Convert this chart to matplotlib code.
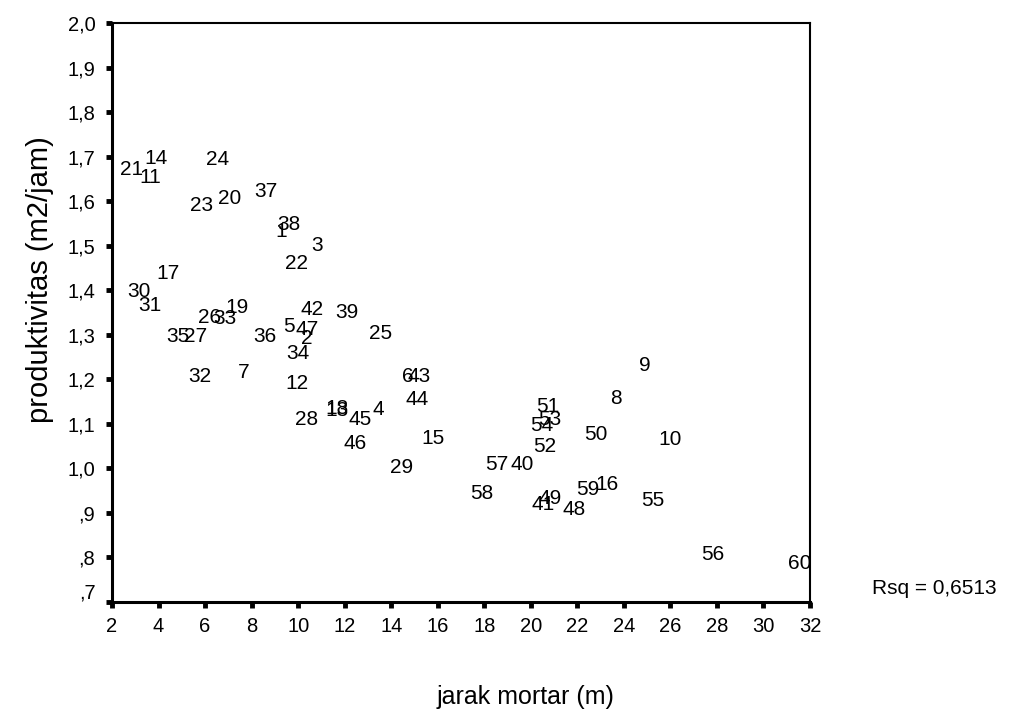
import matplotlib
matplotlib.use("Agg")
import matplotlib.pyplot as plt
import matplotlib.transforms as mtransforms

plt.rcParams['font.family'] = ['Liberation Sans', 'DejaVu Sans']

# case numbers and their position (jarak mortar, produktivitas)
case_ids = list(range(1, 61))
jarak = [9.26, 10.37, 10.82, 13.45, 9.62, 14.73, 7.67, 23.66, 24.91, 25.98,
         3.66, 9.96, 11.68, 3.89, 15.78, 23.26, 4.42, 11.66, 7.36, 7.04,
         2.85, 9.94, 5.86, 6.53, 13.55, 6.21, 5.57, 10.37, 14.45, 3.17,
         3.63, 5.78, 6.86, 9.99, 4.85, 8.58, 8.61, 9.58, 12.09, 19.61,
         20.51, 10.58, 15.21, 15.12, 12.66, 12.47, 10.37, 21.86, 20.82, 22.80,
         20.71, 20.61, 20.82, 20.47, 25.26, 27.82, 18.53, 17.89, 22.43, 31.57]
produktivitas = [1.531, 1.292, 1.500, 1.133, 1.318, 1.207, 1.215, 1.157, 1.232, 1.064,
                 1.653, 1.191, 1.131, 1.696, 1.068, 0.963, 1.438, 1.134, 1.361, 1.606,
                 1.671, 1.459, 1.591, 1.694, 1.302, 1.339, 1.297, 1.109, 1.002, 1.397,
                 1.365, 1.207, 1.337, 1.259, 1.296, 1.296, 1.621, 1.548, 1.350, 1.008,
                 0.918, 1.357, 1.207, 1.155, 1.110, 1.055, 1.312, 0.907, 0.933, 1.075,
                 1.139, 1.049, 1.110, 1.097, 0.928, 0.806, 1.008, 0.944, 0.953, 0.787]

x_ticks = list(range(2, 33, 2))
y_ticks = [0.7, 0.8, 0.9, 1.0, 1.1, 1.2, 1.3, 1.4, 1.5, 1.6, 1.7, 1.8, 1.9, 2.0]
y_tick_labels = [',7', ',8', ',9', '1,0', '1,1', '1,2', '1,3', '1,4', '1,5',
                 '1,6', '1,7', '1,8', '1,9', '2,0']
rsq_text = 'Rsq = 0,6513'

fig = plt.figure(figsize=(10.23, 7.16), dpi=100)
ax = fig.add_axes((0.1095, 0.1592, 0.6823, 0.8087))

# labels drawn as the markers, SPSS style
for cid, xv, yv in zip(case_ids, jarak, produktivitas):
    ax.text(xv, yv, str(cid), ha='center', va='center', fontsize=15, color='black')

ax.set_xlim(2, 32)
ax.set_ylim(0.7, 2.0)
ax.set_xticks(x_ticks)
ax.set_xticklabels([str(v) for v in x_ticks])
ax.set_yticks(y_ticks)
ax.set_yticklabels(y_tick_labels)
ax.tick_params(direction='out', length=4, width=3.5, labelsize=14.5)
ax.tick_params(axis='x', pad=7)
ax.tick_params(axis='y', pad=8)

for sp in ax.spines.values():
    sp.set_linewidth(1.5)
ax.spines['left'].set_linewidth(2.2)
ax.spines['bottom'].set_linewidth(2.2)

# the ,7 label sits a bit above its tick in the original
lab = ax.yaxis.get_major_ticks()[0].label1
lab.set_transform(lab.get_transform() + mtransforms.ScaledTranslation(0, 0.11, fig.dpi_scale_trans))

fig.text(526 / 1023, 1 - 697 / 716, 'jarak mortar (m)', fontsize=18, ha='center', va='center')
fig.text(40 / 1023, 1 - 280 / 716, 'produktivitas (m2/jam)', fontsize=21,
         ha='center', va='center', rotation=90)

fig.text(0.8525, 0.178, rsq_text, fontsize=15, ha='left', va='center')

fig.savefig('out.png', dpi=100)
